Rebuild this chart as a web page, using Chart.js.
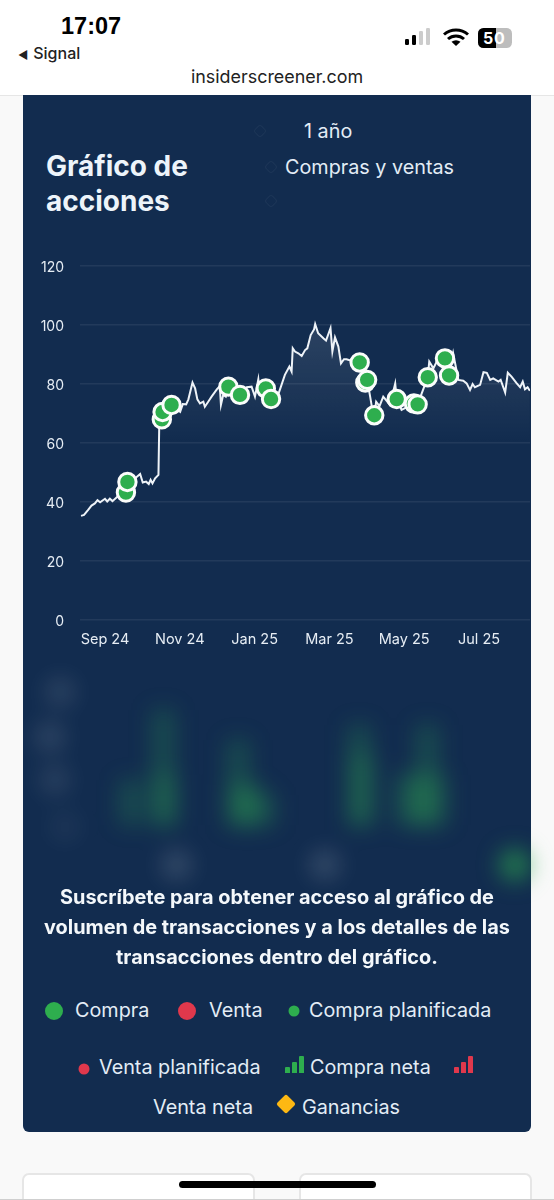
<!DOCTYPE html>
<html lang="es">
<head>
<meta charset="utf-8">
<title>Gráfico de acciones</title>
<script src="https://cdn.jsdelivr.net/npm/chart.js@4"></script>
<style>
html,body{margin:0;padding:0;width:554px;height:1200px;overflow:hidden;background:#f9f9f9;font-family:Inter,"Noto Sans",sans-serif}
.a{position:absolute;white-space:nowrap;line-height:1;transform:translateY(-50%)}
#head{position:absolute;left:0;top:0;width:554px;height:95px;background:#fff;border-bottom:1px solid #e6e6e6}
#panel{position:absolute;left:23px;top:95px;width:508px;height:1037px;background:#122c4f;border-radius:0 0 6px 6px}
.t{color:#e3edf6;font-size:19.8px;font-weight:400}
.b{color:#f4f8fb;font-weight:700;font-size:19.9px;left:0;width:554px;text-align:center}
.dot{position:absolute;border-radius:50%;transform:translate(-50%,-50%)}
.bars{position:absolute;display:flex;align-items:flex-end;gap:2px;height:17px}
.bars i{display:block;width:5px;border-radius:1px 1px 0 0}
.card{position:absolute;top:1173px;height:40px;width:229px;background:#fff;border:2px solid #e6e6e6;border-radius:7px}
.ring{position:absolute;width:8px;height:8px;border:1.5px solid #1d3657;transform:translate(-50%,-50%) rotate(45deg);border-radius:3px}
canvas{position:absolute}
</style>
</head>
<body>
<div id="head"></div>
<div class="a" style="left:61px;top:26px;font:600 23.5px 'Liberation Sans',Inter;color:#000">17:07</div>
<div class="a" style="left:18px;top:53px;font-size:16px;color:#222;font-weight:500"><span style="font-size:11px;margin-right:5px">◀</span>Signal</div>
<div class="a" style="left:0;width:554px;top:77px;text-align:center;font-size:17.9px;color:#222">insiderscreener.com</div>
<svg style="position:absolute;left:404px;top:28px" width="112" height="22" viewBox="0 0 112 22">
  <rect x="1" y="11" width="4" height="6" rx="1.2" fill="#000"/>
  <rect x="8" y="7" width="4" height="10" rx="1.2" fill="#000"/>
  <rect x="15" y="3" width="4" height="14" rx="1.2" fill="#ccc"/>
  <rect x="22" y="0" width="4" height="17" rx="1.2" fill="#ccc"/>
  <path d="M40 6.5a18 18 0 0 1 24 0M44 11a12 12 0 0 1 16 0" fill="none" stroke="#000" stroke-width="3" stroke-linecap="butt"/>
  <path d="M52 18l-4.5-4.2a7 7 0 0 1 9 0z" fill="#000"/>
  <rect x="74" y="0" width="34" height="20" rx="5.5" fill="#bdbdbd"/>
  <path d="M79.5 0H92V20H79.5A5.5 5.5 0 0 1 74 14.5V5.5A5.5 5.5 0 0 1 79.5 0z" fill="#000"/>
  <text x="79" y="16" font-family="Inter" font-weight="700" font-size="16" fill="#fff">5</text>
  <text x="90" y="16" font-family="Inter" font-weight="700" font-size="16" fill="#fff">0</text>
</svg>

<div id="panel"></div>
<div class="a" style="left:46px;top:166px;font-size:28px;font-weight:700;color:#edf4fa">Gráfico de</div>
<div class="a" style="left:46px;top:201px;font-size:28px;font-weight:700;color:#edf4fa">acciones</div>
<div class="ring" style="left:260px;top:131px"></div>
<div class="ring" style="left:271px;top:167px"></div>
<div class="ring" style="left:271px;top:201px"></div>
<div class="a t" style="left:304px;top:132px">1 año</div>
<div class="a t" style="left:285px;top:168px">Compras y ventas</div>

<canvas id="priceChart" style="left:22px;top:257px;width:510px;height:404px"></canvas>
<canvas id="volChart" style="left:0;top:670px;width:554px;height:220px;filter:blur(11px)"></canvas>

<div class="a b" style="top:898px">Suscríbete para obtener acceso al gráfico de</div>
<div class="a b" style="top:928px">volumen de transacciones y a los detalles de las</div>
<div class="a b" style="top:958px">transacciones dentro del gráfico.</div>

<div class="dot" style="left:54px;top:1011px;width:18px;height:18px;background:#2eae4e"></div>
<div class="a t" style="left:75px;top:1011px">Compra</div>
<div class="dot" style="left:187px;top:1011px;width:18px;height:18px;background:#e0384c"></div>
<div class="a t" style="left:209px;top:1011px">Venta</div>
<div class="dot" style="left:294px;top:1011px;width:11px;height:11px;background:#2eae4e"></div>
<div class="a t" style="left:309px;top:1011px">Compra planificada</div>

<div class="dot" style="left:84px;top:1069px;width:11px;height:11px;background:#e0384c"></div>
<div class="a t" style="left:99px;top:1068px">Venta planificada</div>
<div class="bars" style="left:285px;top:1056px"><i style="height:6px;background:#2eae4e"></i><i style="height:11px;background:#2eae4e"></i><i style="height:17px;background:#2eae4e"></i></div>
<div class="a t" style="left:310px;top:1068px">Compra neta</div>
<div class="bars" style="left:454px;top:1056px"><i style="height:6px;background:#e0384c"></i><i style="height:11px;background:#e0384c"></i><i style="height:17px;background:#e0384c"></i></div>
<div class="a t" style="left:153px;top:1108px">Venta neta</div>
<div style="position:absolute;left:279px;top:1097px;width:14px;height:14px;background:#fdb813;border-radius:2px;transform:rotate(45deg)"></div>
<div class="a t" style="left:302px;top:1108px">Ganancias</div>

<div class="card" style="left:22px"></div>
<div class="card" style="left:299px"></div>
<div style="position:absolute;left:179px;top:1181px;width:197px;height:7px;border-radius:4px;background:#000"></div>
<div style="position:absolute;left:0;top:1199px;width:554px;height:1px;background:#cfcfcf"></div>

<script>
// Time axis unit: months counted from the "Sep 24" tick.
const tickMonths = [0, 2, 4, 6, 8, 10];
const tickLabels = ['Sep 24', 'Nov 24', 'Jan 25', 'Mar 25', 'May 25', 'Jul 25'];
const priceTicks = [0, 20, 40, 60, 80, 100, 120];

const priceMonths = [-0.64,-0.56,-0.45,-0.36,-0.27,-0.20,-0.13,0,0.06,0.13,0.20,0.33,0.45,0.56,0.67,0.80,0.94,1.01,1.10,1.17,1.22,1.27,1.34,1.43,1.45,1.52,1.54,1.78,2.01,2.08,2.17,2.23,2.34,2.41,2.47,2.54,2.63,2.67,2.76,2.85,2.99,3.07,3.10,3.16,3.23,3.30,3.39,3.52,3.61,3.79,3.92,4.01,4.10,4.14,4.30,4.44,4.63,4.72,4.81,4.93,4.99,5.02,5.08,5.17,5.26,5.35,5.41,5.50,5.59,5.62,5.70,5.84,5.91,6.03,6.08,6.15,6.24,6.31,6.39,6.46,6.60,6.81,6.96,7.01,7.09,7.15,7.20,7.25,7.34,7.44,7.62,7.76,7.80,7.93,8.26,8.36,8.63,8.67,8.78,8.87,9.09,9.20,9.31,9.45,9.58,9.67,9.76,9.83,9.89,10.03,10.12,10.21,10.30,10.38,10.52,10.58,10.70,10.77,10.87,11.01,11.10,11.17,11.23,11.30,11.36];
const priceValues = [35.3,35.6,37.3,38.8,39.5,40.6,39.9,41.1,40.2,41.1,40.3,41.8,42.9,43.5,46.9,48.0,49.5,46.6,46.9,46.1,47.5,46.3,48.0,49.2,65.5,68.0,70.5,72.9,70.6,73.2,73.1,74.8,80.5,78.5,74.8,73.4,74.0,72.3,74.0,75.7,78.2,79.3,72.9,76.3,75.7,79.1,78.0,76.8,76.3,78.9,79.1,75.7,81.6,76.8,78.5,74.9,76.3,79.7,83.1,85.9,84.2,92.1,91.0,90.4,89.5,91.5,92.1,96.6,98.5,100.3,97.2,95.5,94.7,98.9,91.0,95.8,92.7,87.0,88.4,88.4,87.8,87.3,80.5,81.4,75.7,71.2,69.4,74.0,72.5,75.7,72.9,80.2,74.9,71.2,73.4,73.1,82.3,87.6,85.3,87.6,88.7,82.9,90.4,81.4,81.1,80.2,78.0,80.0,78.9,79.7,84.0,83.8,81.4,81.9,80.8,81.4,77.1,83.8,82.5,80.2,78.9,80.8,78.2,78.9,77.7];

const buyMonths = [0.56,0.60,1.52,1.54,1.78,3.30,3.61,4.30,4.44,6.81,6.96,7.01,7.20,7.80,8.26,8.36,8.63,9.09,9.20];
const buyValues = [43.2,46.8,68.0,70.5,72.9,79.1,76.3,78.5,74.9,87.3,80.5,81.4,69.4,74.9,73.4,73.1,82.3,88.7,82.9];

// The transaction-volume panel is blurred in the reference; heights are estimates.
const volumeMonths = [0.69,1.56,1.60,3.56,3.62,3.92,4.25,6.80,6.88,8.05,8.40,8.62,8.85];
const volumeValues = [45,115,50,85,40,40,30,100,70,50,50,100,50];
const blurGreyMonths = [-1.20,-1.47,-1.34,-1.07,1.91,5.88];
const blurGreyValues = [133,88,45,-2,-40,-40];
const blurGreyAlphas = [0.11,0.12,0.10,0.05,0.15,0.15];
const blurGreenMonths = [10.96];
const blurGreenValues = [-40];

Chart.defaults.animation = false;
Chart.defaults.font.family = 'Inter';

const toXY = (xs, ys) => xs.map((x, i) => ({x, y: ys[i]}));

new Chart(document.getElementById('priceChart'), {
  type: 'line',
  data: {
    datasets: [
      {
        label: 'Compra',
        data: toXY(buyMonths, buyValues),
        showLine: false,
        order: 0,
        pointRadius: 8.7,
        pointBackgroundColor: '#2eae4e',
        pointBorderColor: '#fbfdfb',
        pointBorderWidth: 3
      },
      {
        label: 'Precio',
        data: toXY(priceMonths, priceValues),
        order: 1,
        borderColor: '#eef3f8',
        borderWidth: 2,
        pointRadius: 0,
        tension: 0,
        fill: 'origin',
        backgroundColor: c => {
          const area = c.chart.chartArea;
          if (!area) return 'transparent';
          const y = c.chart.scales.y;
          const g = c.chart.ctx.createLinearGradient(0, y.getPixelForValue(100), 0, y.getPixelForValue(60));
          g.addColorStop(0, 'rgba(255,255,255,0.11)');
          g.addColorStop(1, 'rgba(255,255,255,0)');
          return g;
        }
      }
    ]
  },
  options: {
    responsive: false,
    maintainAspectRatio: false,
    layout: {autoPadding: false, padding: {top: 9, right: 2, left: 0, bottom: 0}},
    plugins: {legend: {display: false}, tooltip: {enabled: false}},
    scales: {
      x: {
        type: 'linear',
        min: -0.668,
        max: 11.364,
        afterBuildTicks: s => { s.ticks = tickMonths.map(value => ({value})); },
        afterFit: s => { s.height = 41; s.paddingLeft = 0; s.paddingRight = 0; },
        grid: {display: false},
        border: {display: false},
        ticks: {
          autoSkip: false, maxRotation: 0, padding: 3,
          color: '#e6edf4', font: {size: 14.5},
          callback: v => tickLabels[tickMonths.indexOf(v)]
        }
      },
      y: {
        min: 0,
        max: 120,
        afterBuildTicks: s => { s.ticks = priceTicks.map(value => ({value})); },
        afterFit: s => { s.width = 58; s.paddingTop = 0; s.paddingBottom = 0; },
        grid: {color: 'rgba(255,255,255,0.07)', lineWidth: 1.5, drawTicks: false},
        border: {display: false},
        ticks: {color: '#e6edf4', font: {size: 14}, padding: 16, labelOffset: 1.5}
      }
    }
  }
});

new Chart(document.getElementById('volChart'), {
  type: 'bar',
  data: {
    datasets: [
      {
        type: 'bar',
        data: toXY(volumeMonths, volumeValues),
        backgroundColor: 'rgba(46,174,78,0.25)',
        barThickness: 22
      },
      {
        type: 'scatter',
        data: toXY(blurGreyMonths, blurGreyValues),
        pointRadius: 15,
        pointBackgroundColor: blurGreyAlphas.map(a => `rgba(255,255,255,${a})`),
        pointBorderWidth: 0
      },
      {
        type: 'scatter',
        data: toXY(blurGreenMonths, blurGreenValues),
        pointRadius: 16,
        pointBackgroundColor: 'rgba(46,174,78,0.6)',
        pointBorderWidth: 0
      }
    ]
  },
  options: {
    responsive: false,
    maintainAspectRatio: false,
    layout: {autoPadding: false, padding: 0},
    plugins: {legend: {display: false}, tooltip: {enabled: false}},
    scales: {
      x: {type: 'linear', display: false, offset: false, min: -2.807, max: 12.005},
      y: {display: false, offset: false, min: -65, max: 155}
    }
  }
});
</script>
</body>
</html>
